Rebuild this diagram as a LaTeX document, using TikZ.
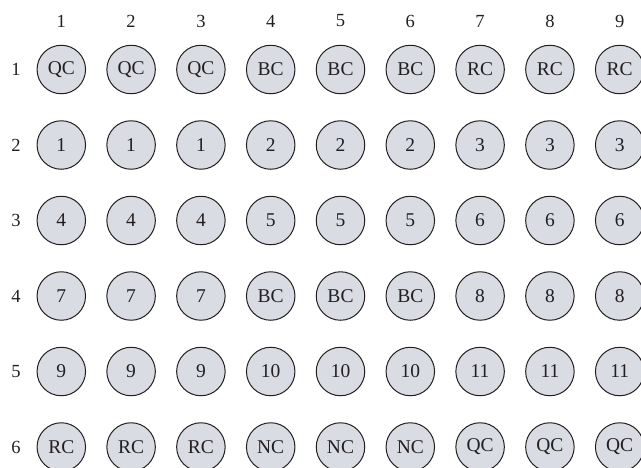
\documentclass[tikz,border=0pt]{standalone}
\usepackage{fontspec}
\setmainfont{Liberation Serif}
\definecolor{wellfill}{RGB}{217,220,226}
\definecolor{ink}{RGB}{35,31,32}
\begin{document}
\begin{tikzpicture}[x=1pt,y=-1pt,
  well/.style={circle,draw=ink,fill=wellfill,line width=1pt,minimum size=48.5pt,inner sep=0pt,font=\fontsize{19.5}{19.5}\selectfont,text=ink},
  lab/.style={font=\fontsize{18.5}{18.5}\selectfont,text=ink,inner sep=0pt}]
\useasboundingbox (0,0) rectangle (641,467);
\foreach \c in {1,...,9}
  \node[lab] (col\c) at ({61.3+(\c-1)*69.8},21) {\c};
\foreach \r in {1,...,6}
  \node[lab] (row\r) at (16,{69.5+(\r-1)*75.5}) {\r};
\foreach \r/\labs in {1/{QC,QC,QC,BC,BC,BC,RC,RC,RC},
                      2/{1,1,1,2,2,2,3,3,3},
                      3/{4,4,4,5,5,5,6,6,6},
                      4/{7,7,7,BC,BC,BC,8,8,8},
                      5/{9,9,9,10,10,10,11,11,11},
                      6/{RC,RC,RC,NC,NC,NC,QC,QC,QC}}
  \foreach \l [count=\c] in \labs
    \node[well] (w-\r-\c) at ({61.3+(\c-1)*69.8},{69.5+(\r-1)*75.5}) {\l};
\end{tikzpicture}
\end{document}
